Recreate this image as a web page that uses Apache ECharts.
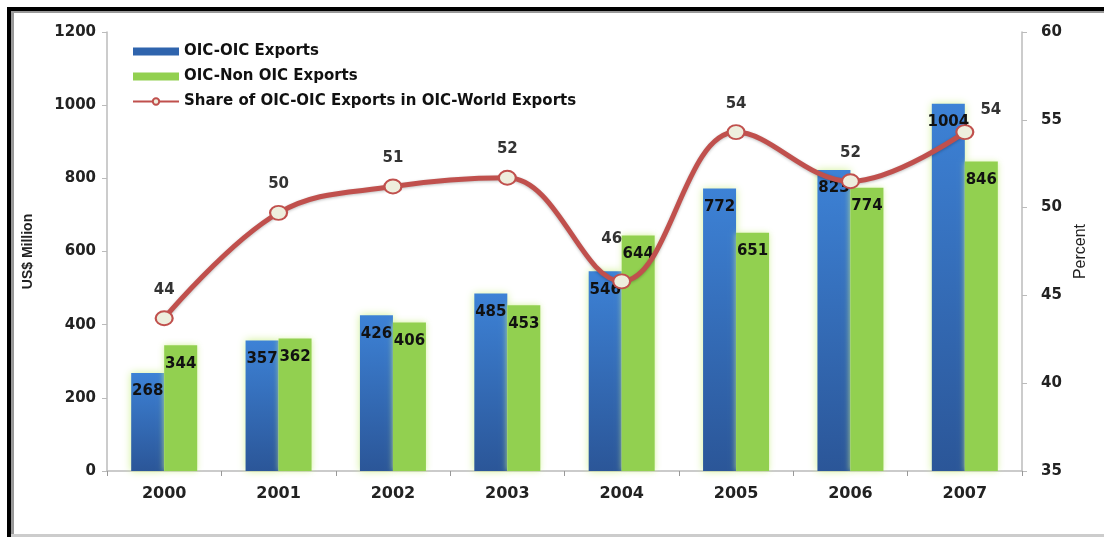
<!DOCTYPE html>
<html>
<head>
<meta charset="utf-8">
<script src="https://cdn.jsdelivr.net/npm/echarts@6/dist/echarts.min.js"></script>
<style>html,body{margin:0;padding:0;background:#fff;}#c{width:1104px;height:537px;}</style>
</head>
<body>
<div id="c"></div>
<script>
var years = ['2000','2001','2002','2003','2004','2005','2006','2007'];
var oicOic = [268, 357, 426, 485, 546, 772, 823, 1004];
var oicNonOic = [344, 362, 406, 453, 644, 651, 774, 846];
var sharePct = [43.7, 49.7, 51.2, 51.7, 45.8, 54.3, 51.5, 54.3];
var shareLabels = [44, 50, 51, 52, 46, 54, 52, 54];
var leftTicks = [0, 200, 400, 600, 800, 1000, 1200];
var rightTicks = [35, 40, 45, 50, 55, 60];

var chart = echarts.init(document.getElementById('c'));
var font = 'DejaVu Sans';
var lineLabelOffsets = [[0,-2],[0,-2],[0,-2],[0,-2],[-10,-16],[0,-2],[0,-2],[26,4]];

var shareData = sharePct.map(function(v, i){
  return {value: v, label: {offset: lineLabelOffsets[i], formatter: String(shareLabels[i])}};
});

chart.setOption({
  animation: false,
  backgroundColor: '#fff',
  textStyle: {fontFamily: font},
  graphic: [
    {type: 'rect', shape: {x: 7, y: 7, width: 1097, height: 4}, style: {fill: '#000'}, z: 100},
    {type: 'rect', shape: {x: 11, y: 11, width: 1093, height: 2}, style: {fill: '#999'}, z: 100},
    {type: 'rect', shape: {x: 7, y: 7, width: 4, height: 530}, style: {fill: '#000'}, z: 100},
    {type: 'rect', shape: {x: 11, y: 11, width: 3, height: 526}, style: {fill: '#999'}, z: 100},
    {type: 'rect', shape: {x: 11, y: 534, width: 1093, height: 3}, style: {fill: '#ccc'}, z: 100}
  ],
  legend: {
    orient: 'vertical',
    left: 127,
    top: 39,
    itemWidth: 46,
    itemHeight: 8,
    itemGap: 10,
    textStyle: {fontFamily: font, fontWeight: 'bold', fontSize: 15, color: '#111'},
    data: [
      {name: 'OIC-OIC Exports', icon: 'rect', itemStyle: {color: '#2f64ad'}},
      {name: 'OIC-Non OIC Exports', icon: 'rect', itemStyle: {color: '#92d050'}},
      {name: 'Share of OIC-OIC Exports in OIC-World Exports'}
    ]
  },
  grid: {left: 107, right: 82, top: 32, bottom: 66},
  xAxis: {
    type: 'category',
    data: years,
    axisLine: {lineStyle: {color: '#bbb', width: 1.5}},
    axisTick: {show: true, length: 5, lineStyle: {color: '#999'}},
    axisLabel: {fontFamily: font, fontWeight: 'bold', fontSize: 16, color: '#222', margin: 15}
  },
  yAxis: [
    {
      type: 'value', min: 0, max: 1200, interval: 200,
      name: 'US$ Million', nameLocation: 'middle', nameGap: 72, nameRotate: 90,
      nameTextStyle: {fontFamily: 'Liberation Sans', fontWeight: 'bold', fontSize: 14, color: '#222'},
      axisLine: {show: true, lineStyle: {color: '#bbb', width: 1.5}},
      axisTick: {show: true, inside: false, length: 5, lineStyle: {color: '#bbb'}},
      splitLine: {show: false},
      axisLabel: {fontFamily: font, fontWeight: 'bold', fontSize: 15, color: '#222', margin: 11,
        formatter: function(v){ return String(v); }}
    },
    {
      type: 'value', min: 35, max: 60, interval: 5,
      name: 'Percent', nameLocation: 'middle', nameGap: 50, nameRotate: 90,
      nameTextStyle: {fontFamily: 'Liberation Sans', fontSize: 16, color: '#222'},
      axisLine: {show: true, lineStyle: {color: '#bbb', width: 1.5}},
      axisTick: {show: true, length: 5, lineStyle: {color: '#bbb'}},
      splitLine: {show: false},
      axisLabel: {fontFamily: font, fontWeight: 'bold', fontSize: 15, color: '#222', margin: 19}
    }
  ],
  series: [
    {
      name: 'OIC-OIC Exports',
      type: 'bar',
      data: oicOic,
      barWidth: 33,
      barGap: '0%',
      itemStyle: {
        color: new echarts.graphic.LinearGradient(0, 0, 0, 1, [
          {offset: 0, color: '#3d82d6'},
          {offset: 1, color: '#2b5698'}
        ]),
        shadowBlur: 8,
        shadowColor: 'rgba(205,240,140,0.9)'
      },
      label: {show: true, position: 'insideTop', distance: 11, fontFamily: font, fontWeight: 'bold', fontSize: 15, color: '#111'}
    },
    {
      name: 'OIC-Non OIC Exports',
      type: 'bar',
      data: oicNonOic,
      barWidth: 33,
      itemStyle: {
        color: '#92d050',
        shadowBlur: 6,
        shadowColor: 'rgba(205,240,140,0.8)'
      },
      label: {show: true, position: 'insideTop', distance: 11, fontFamily: font, fontWeight: 'bold', fontSize: 15, color: '#111'}
    },
    {
      name: 'Share of OIC-OIC Exports in OIC-World Exports',
      type: 'line',
      yAxisIndex: 1,
      data: shareData,
      smooth: 0.38,
      z: 5,
      symbol: 'circle',
      symbolSize: [17, 14],
      lineStyle: {color: '#c0504d', width: 5, shadowBlur: 3, shadowColor: 'rgba(0,0,0,0.25)', shadowOffsetY: 1},
      itemStyle: {color: '#eeeedd', borderColor: '#c0504d', borderWidth: 2},
      label: {show: true, position: 'top', distance: 11, fontFamily: font, fontWeight: 'bold', fontSize: 15, color: '#333'}
    }
  ]
});
</script>
</body>
</html>
